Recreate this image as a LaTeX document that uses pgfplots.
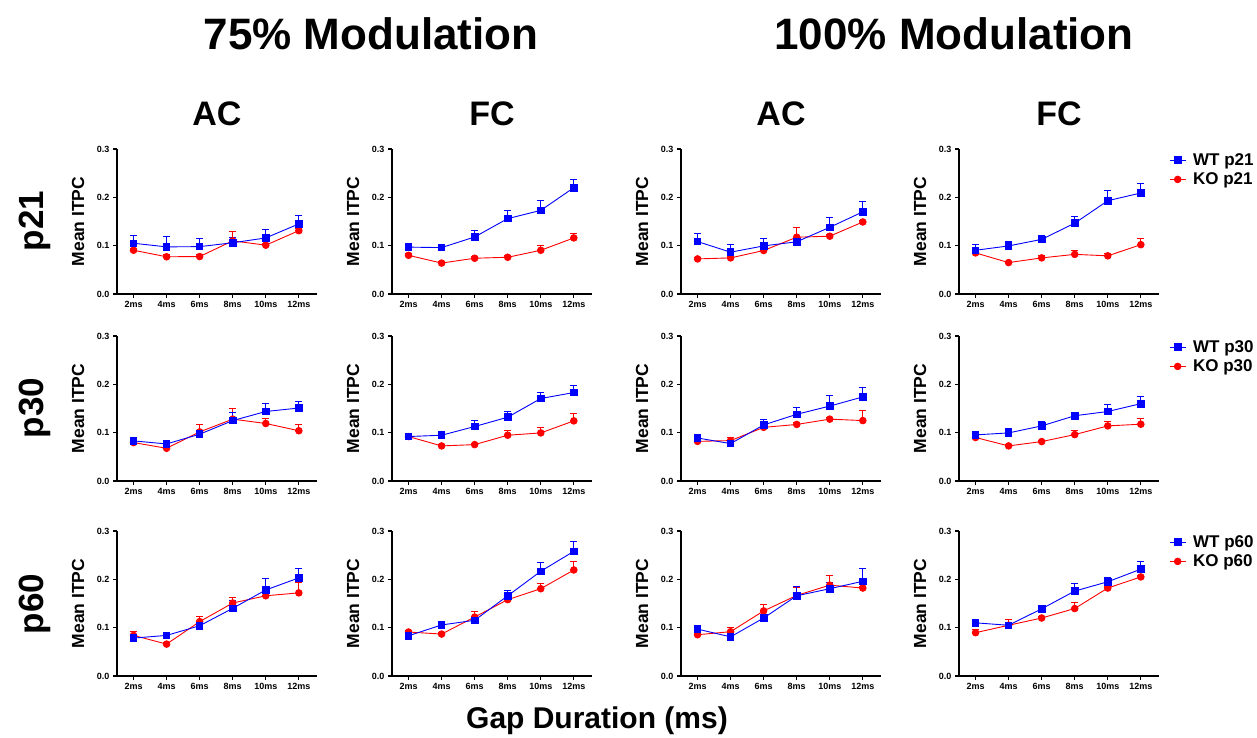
\documentclass[border=0pt]{standalone}
\usepackage{pgfplots}
\usepackage{pgfplotstable}
\pgfplotsset{compat=1.18}
\usepackage{fontspec}
\setmainfont{Liberation Sans}
\definecolor{wtblue}{RGB}{0,0,255}
\definecolor{kored}{RGB}{255,0,0}

% columns: x  wt  wte  ko  koe
\pgfplotstableread{
x wt wte ko koe
0 0.105 0.016 0.0905 0.004
1 0.0975 0.0215 0.077 0.004
2 0.098 0.017 0.0775 0.004
3 0.106 0.012 0.110 0.019
4 0.116 0.018 0.101 0.004
5 0.145 0.017 0.131 0.004
}\tA
\pgfplotstableread{
x wt wte ko koe
0 0.097 0.006 0.080 0.003
1 0.096 0.003 0.064 0.004
2 0.118 0.014 0.074 0.004
3 0.156 0.017 0.076 0.003
4 0.173 0.020 0.0905 0.009
5 0.220 0.018 0.116 0.009
}\tB
\pgfplotstableread{
x wt wte ko koe
0 0.1085 0.0165 0.0726 0.003
1 0.0865 0.0155 0.0747 0.003
2 0.0995 0.0155 0.090 0.005
3 0.108 0.010 0.1175 0.0195
4 0.138 0.020 0.1196 0.004
5 0.170 0.022 0.149 0.004
}\tC
\pgfplotstableread{
x wt wte ko koe
0 0.0905 0.0115 0.085 0.003
1 0.0995 0.0085 0.065 0.003
2 0.113 0.009 0.0747 0.006
3 0.1465 0.0135 0.082 0.009
4 0.193 0.021 0.079 0.005
5 0.209 0.020 0.102 0.012
}\tD
\pgfplotstableread{
x wt wte ko koe
0 0.083 0.003 0.0795 0.003
1 0.0767 0.004 0.0677 0.003
2 0.0968 0.008 0.1016 0.016
3 0.125 0.017 0.128 0.022
4 0.1438 0.016 0.119 0.010
5 0.151 0.014 0.104 0.0135
}\tE
\pgfplotstableread{
x wt wte ko koe
0 0.092 0.004 0.092 0.0055
1 0.0947 0.0085 0.0726 0.003
2 0.1127 0.012 0.0753 0.003
3 0.132 0.011 0.0947 0.009
4 0.1707 0.012 0.0995 0.011
5 0.183 0.015 0.1244 0.015
}\tF
\pgfplotstableread{
x wt wte ko koe
0 0.089 0.003 0.082 0.003
1 0.0774 0.004 0.0836 0.0074
2 0.116 0.011 0.111 0.004
3 0.138 0.015 0.117 0.004
4 0.155 0.022 0.128 0.004
5 0.174 0.0195 0.125 0.0215
}\tG
\pgfplotstableread{
x wt wte ko koe
0 0.0954 0.003 0.090 0.003
1 0.0995 0.0095 0.0726 0.003
2 0.114 0.009 0.0816 0.003
3 0.135 0.0067 0.096 0.008
4 0.1438 0.015 0.114 0.010
5 0.160 0.015 0.1175 0.0125
}\tH
\pgfplotstableread{
x wt wte ko koe
0 0.0785 0.003 0.084 0.0077
1 0.084 0.003 0.066 0.003
2 0.104 0.004 0.1125 0.011
3 0.140 0.016 0.151 0.011
4 0.178 0.023 0.166 0.004
5 0.203 0.020 0.172 0.022
}\tI
\pgfplotstableread{
x wt wte ko koe
0 0.0833 0.003 0.091 0.004
1 0.1056 0.003 0.0868 0.003
2 0.1153 0.004 0.122 0.0106
3 0.166 0.012 0.158 0.004
4 0.2167 0.0173 0.1806 0.011
5 0.258 0.0205 0.2194 0.0186
}\tJ
\pgfplotstableread{
x wt wte ko koe
0 0.097 0.003 0.0854 0.003
1 0.081 0.003 0.0917 0.0083
2 0.120 0.004 0.1347 0.0133
3 0.166 0.020 0.1667 0.016
4 0.1806 0.0134 0.188 0.020
5 0.196 0.026 0.182 0.003
}\tK
\pgfplotstableread{
x wt wte ko koe
0 0.110 0.005 0.0896 0.006
1 0.105 0.003 0.105 0.011
2 0.139 0.0075 0.120 0.003
3 0.1757 0.0153 0.1396 0.0134
4 0.195 0.0085 0.182 0.003
5 0.221 0.0165 0.205 0.003
}\tL

\pgfplotsset{
  panel/.style={
    scale only axis, width=200pt, height=145pt,
    anchor=south west,
    xmin=-0.5, xmax=5.55, ymin=0, ymax=0.3,
    axis x line*=bottom, axis y line*=left,
    axis line style={line width=1.4pt, black},
    xtick={0,1,2,3,4,5},
    xticklabels={2ms,4ms,6ms,8ms,10ms,12ms},
    ytick={0,0.1,0.2,0.3},
    tick align=outside, major tick length=4pt,
    tick style={line width=1.2pt, black},
    /pgf/number format/assume math mode=true,
    yticklabel style={/pgf/number format/.cd, fixed, fixed zerofill, precision=1},
    tick label style={font=\bfseries\fontsize{9}{10}\selectfont},
    ylabel={Mean ITPC},
    ylabel style={at={(axis description cs:-0.195,0.5)}, anchor=center,
                  font=\bfseries\fontsize{17.5}{18}\selectfont},
    clip=false,
  },
  wt/.style={color=wtblue, line width=0.9pt, mark=square*, mark size=3.3pt,
    mark options={solid, fill=wtblue},
    error bars/.cd, y dir=plus, y explicit, error mark=|,
    error bar style={line width=0.9pt, wtblue},
    error mark options={line width=0.9pt, mark size=3.5pt, wtblue}},
  ko/.style={color=kored, line width=0.9pt, mark=*, mark size=3.3pt,
    mark options={solid, fill=kored},
    error bars/.cd, y dir=plus, y explicit, error mark=|,
    error bar style={line width=0.9pt, kored},
    error mark options={line width=0.9pt, mark size=3.5pt, kored}},
  leg/.style={
    reverse legend,
    legend cell align=left,
    legend style={at={(axis description cs:1.05,0.985)}, anchor=north west,
      draw=none, fill=none, font=\bfseries\fontsize{17}{18}\selectfont,
      row sep=2pt, inner sep=0pt},
    legend image code/.code={\draw[mark repeat=2,mark phase=2] plot coordinates {(0pt,0pt) (8pt,0pt) (16pt,0pt)};
      \path (0pt,0pt) (21pt,0pt);},
  },
}

\newcommand{\panel}[5]{%
  \begin{axis}[panel, at={(#1pt,-#2pt)}]
    \addplot[ko] table[x=x, y=ko, y error=koe] {#3};
    \addplot[wt] table[x=x, y=wt, y error=wte] {#3};
  \end{axis}}
\newcommand{\panelleg}[5]{%
  \begin{axis}[panel, leg, at={(#1pt,-#2pt)}]
    \addplot[ko] table[x=x, y=ko, y error=koe] {#3};
    \addlegendentry{KO #4}
    \addplot[wt] table[x=x, y=wt, y error=wte] {#3};
    \addlegendentry{WT #4}
  \end{axis}}

\begin{document}
\begin{tikzpicture}
\path[use as bounding box] (0pt,0pt) rectangle (1257pt,-738pt);

\panel{117}{294}{\tA}{}{}
\panel{392}{294}{\tB}{}{}
\panel{681}{294}{\tC}{}{}
\panelleg{959}{294}{\tD}{p21}{}

\panel{117}{481}{\tE}{}{}
\panel{392}{481}{\tF}{}{}
\panel{681}{481}{\tG}{}{}
\panelleg{959}{481}{\tH}{p30}{}

\panel{117}{676}{\tI}{}{}
\panel{392}{676}{\tJ}{}{}
\panel{681}{676}{\tK}{}{}
\panelleg{959}{676}{\tL}{p60}{}

\node[anchor=base, font=\bfseries\fontsize{44}{50}\selectfont] at (371pt,-50pt) {75\% Modulation};
\node[anchor=base, font=\bfseries\fontsize{44}{50}\selectfont] at (954pt,-50pt) {100\% Modulation};

\node[anchor=base, font=\bfseries\fontsize{34}{40}\selectfont] at (217pt,-126pt) {AC};
\node[anchor=base, font=\bfseries\fontsize{34}{40}\selectfont] at (492pt,-126pt) {FC};
\node[anchor=base, font=\bfseries\fontsize{34}{40}\selectfont] at (781pt,-126pt) {AC};
\node[anchor=base, font=\bfseries\fontsize{34}{40}\selectfont] at (1059pt,-126pt) {FC};

\node[anchor=base, rotate=90, font=\bfseries\fontsize{35}{40}\selectfont] at (43pt,-221pt) {p21};
\node[anchor=base, rotate=90, font=\bfseries\fontsize{35}{40}\selectfont] at (43pt,-408pt) {p30};
\node[anchor=base, rotate=90, font=\bfseries\fontsize{35}{40}\selectfont] at (43pt,-604pt) {p60};

\node[anchor=base, font=\bfseries\fontsize{30}{34}\selectfont] at (597pt,-728pt) {Gap Duration (ms)};
\end{tikzpicture}
\end{document}
